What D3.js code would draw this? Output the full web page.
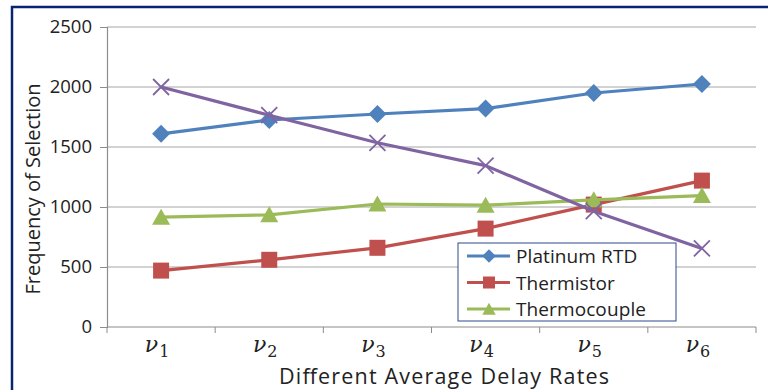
<html>
<head>
<script src="https://d3js.org/d3.v7.min.js"></script>
<style>
body { margin: 0; background: #fff; }
text { font-family: "Open Sans", sans-serif; fill: #222; }
</style>
</head>
<body>
<svg width="768" height="390"></svg>
<script>
var categories = ["1", "2", "3", "4", "5", "6"];
var platinumRTD = [1610, 1725, 1775, 1820, 1950, 2025];
var thermistor = [470, 560, 660, 820, 1020, 1220];
var thermocouple = [915, 935, 1025, 1015, 1060, 1095];
var fourth = [2000, 1765, 1535, 1345, 965, 655];
var yTicks = [0, 500, 1000, 1500, 2000, 2500];

var series = [
	{name: "Platinum RTD", values: platinumRTD, color: "#4F81BD", marker: "diamond", legend: true},
	{name: "Thermistor", values: thermistor, color: "#C0504D", marker: "square", legend: true},
	{name: "Thermocouple", values: thermocouple, color: "#9BBB59", marker: "triangle", legend: true},
	{name: "Series 4", values: fourth, color: "#8064A2", marker: "x", legend: false}
];

var svg = d3.select("svg"),
	margin = {top: 27, left: 107, bottom: 63, right: 12},
	width = +svg.attr("width") - margin.left - margin.right,
	height = +svg.attr("height") - margin.top - margin.bottom;

// frame
svg.append("path")
	.attr("d", "M12,390V7H768")
	.attr("fill", "none")
	.attr("stroke", "#0b2470")
	.attr("stroke-width", 2.5);

var g = svg.append("g").attr("transform", "translate(" + margin.left + "," + margin.top + ")");

var x = d3.scaleBand().domain(categories).range([0, width]);
var y = d3.scaleLinear().domain([0, 2500]).range([height, 0]);

// gridlines
g.append("g").selectAll("line")
	.data(yTicks.slice(1))
	.enter().append("line")
	.attr("x1", 0).attr("x2", width)
	.attr("y1", function(d) { return y(d); })
	.attr("y2", function(d) { return y(d); })
	.attr("stroke", "#a6a6a6")
	.attr("stroke-width", 1.2);

// y axis
var yAxis = g.append("g")
	.call(d3.axisLeft(y).tickValues(yTicks).tickFormat(d3.format("d")).tickSize(7).tickPadding(8));
yAxis.select(".domain").attr("stroke", "#8c8c8c").attr("stroke-width", 1.2);
yAxis.selectAll(".tick line").attr("stroke", "#8c8c8c");
yAxis.selectAll(".tick text").attr("font-size", 18.5).attr("fill", "#333")
	.style("font-family", "'Open Sans', sans-serif");

// x axis
var xAxis = g.append("g").attr("transform", "translate(0," + height + ")");
xAxis.append("line").attr("x1", 0).attr("x2", width).attr("stroke", "#8c8c8c").attr("stroke-width", 1.2);
xAxis.selectAll(".xt")
	.data(d3.range(categories.length + 1))
	.enter().append("line")
	.attr("x1", function(i) { return i * x.bandwidth(); })
	.attr("x2", function(i) { return i * x.bandwidth(); })
	.attr("y1", 0).attr("y2", 6)
	.attr("stroke", "#8c8c8c");
var xl = xAxis.selectAll(".xl")
	.data(categories)
	.enter().append("text")
	.attr("x", function(d) { return x(d) + x.bandwidth() / 2 - 4; })
	.attr("y", 25)
	.attr("text-anchor", "middle")
	.style("font-family", "'DejaVu Serif', serif")
	.attr("fill", "#222");
xl.append("tspan").attr("font-size", 22).attr("font-style", "italic").text("\u03bd");
xl.append("tspan").attr("font-size", 16).attr("dx", 1).attr("dy", 5).text(function(d) { return d; });

// axis titles
svg.append("text")
	.attr("x", 444).attr("y", 384)
	.attr("text-anchor", "middle")
	.attr("font-size", 21.5)
	.attr("textLength", 330)
	.attr("lengthAdjust", "spacing")
	.text("Different Average Delay Rates");
svg.append("text")
	.attr("transform", "translate(40,189) rotate(-90)")
	.attr("text-anchor", "middle")
	.attr("font-size", 20)
	.text("Frequency of Selection");

function drawMarker(sel, type, color) {
	if (type === "diamond") {
		sel.append("path").attr("d", "M0,-9L9,0L0,9L-9,0Z").attr("fill", color);
	} else if (type === "square") {
		sel.append("rect").attr("x", -8).attr("y", -8).attr("width", 16).attr("height", 16).attr("fill", color);
	} else if (type === "triangle") {
		sel.append("path").attr("d", "M0,-8.5L9,7.5L-9,7.5Z").attr("fill", color);
	} else {
		sel.append("path").attr("d", "M-8,-8L8,8M-8,8L8,-8").attr("stroke", color).attr("stroke-width", 1.8).attr("fill", "none");
	}
}

var line = d3.line()
	.x(function(d, i) { return x(categories[i]) + x.bandwidth() / 2; })
	.y(function(d) { return y(d); });

series.forEach(function(s) {
	g.append("path")
		.datum(s.values)
		.attr("fill", "none")
		.attr("stroke", s.color)
		.attr("stroke-width", 3.2)
		.attr("stroke-linejoin", "round")
		.attr("d", line);
	g.selectAll(null)
		.data(s.values)
		.enter().append("g")
		.attr("transform", function(d, i) { return "translate(" + (x(categories[i]) + x.bandwidth() / 2) + "," + y(d) + ")"; })
		.each(function() { drawMarker(d3.select(this), s.marker, s.color); });
});

// legend
var legend = svg.append("g").attr("transform", "translate(458,243)");
legend.append("rect")
	.attr("width", 218).attr("height", 78)
	.attr("fill", "#fff")
	.attr("stroke", "#2c4a8a")
	.attr("stroke-width", 1);
var items = legend.selectAll(".li")
	.data(series.filter(function(s) { return s.legend; }))
	.enter().append("g")
	.attr("transform", function(d, i) { return "translate(0," + (13 + i * 26.5) + ")"; });
items.append("line")
	.attr("x1", 9).attr("x2", 52)
	.attr("stroke", function(d) { return d.color; })
	.attr("stroke-width", 3.2);
items.each(function(d) {
	var m = d3.select(this).append("g").attr("transform", "translate(31,0) scale(0.75)");
	drawMarker(m, d.marker, d.color);
});
items.append("text")
	.attr("x", 58).attr("y", 7)
	.attr("font-size", 19)
	.attr("letter-spacing", 0.1)
	.text(function(d) { return d.name; });
</script>
</body>
</html>
